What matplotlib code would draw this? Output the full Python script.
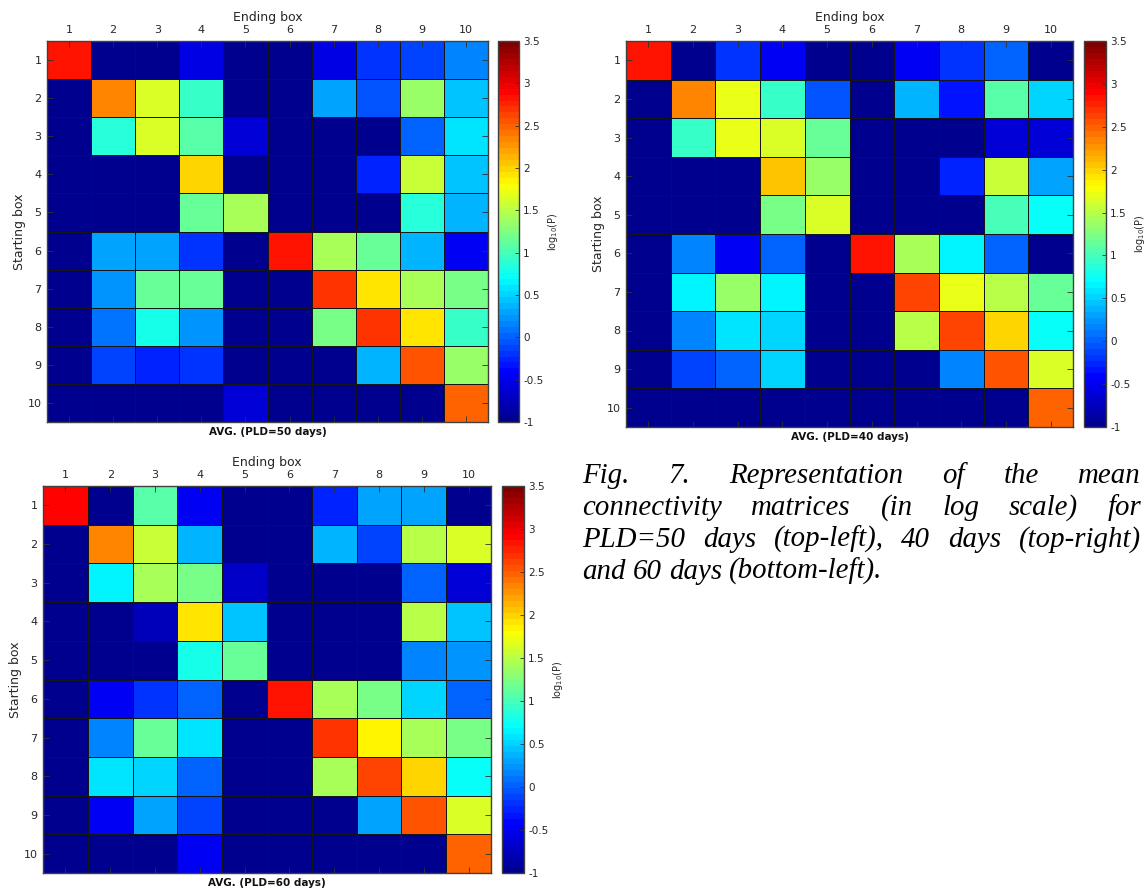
import numpy as np
import matplotlib
matplotlib.use("Agg")
import matplotlib.pyplot as plt
from matplotlib.colors import LinearSegmentedColormap
from matplotlib.ticker import FuncFormatter

# log10(P) of mean connectivity between boxes (rows: starting box, cols: ending box)
boxes = list(range(1, 11))

pld50 = [
    [2.80, -1.00, -1.00, -0.55, -1.00, -1.00, -0.55, -0.21, -0.09, 0.18],
    [-1.00, 2.32, 1.63, 0.91, -1.00, -1.00, 0.27, -0.04, 1.39, 0.44],
    [-1.00, 0.86, 1.63, 1.08, -0.64, -1.00, -1.00, -1.00, 0.05, 0.57],
    [-1.00, -1.00, -1.00, 1.99, -1.00, -1.00, -1.00, -0.26, 1.57, 0.44],
    [-1.00, -1.00, -1.00, 1.14, 1.44, -1.00, -1.00, -1.00, 0.86, 0.35],
    [-1.00, 0.27, 0.31, -0.22, -1.00, 2.80, 1.44, 1.14, 0.35, -0.45],
    [-1.00, 0.22, 1.14, 1.14, -1.00, -1.00, 2.67, 1.92, 1.44, 1.22],
    [-1.00, 0.09, 0.82, 0.22, -1.00, -1.00, 1.22, 2.70, 1.90, 0.91],
    [-1.00, -0.09, -0.26, -0.22, -1.00, -1.00, -1.00, 0.35, 2.54, 1.39],
    [-1.00, -1.00, -1.00, -1.00, -0.60, -1.00, -1.00, -1.00, -1.00, 2.50],
]

pld40 = [
    [2.80, -1.00, -0.22, -0.45, -1.00, -1.00, -0.50, -0.22, 0.05, -1.00],
    [-1.00, 2.37, 1.70, 0.91, -0.04, -1.00, 0.35, -0.30, 1.04, 0.49],
    [-1.00, 0.95, 1.70, 1.62, 1.14, -1.00, -1.00, -1.00, -0.64, -0.60],
    [-1.00, -1.00, -1.00, 2.06, 1.35, -1.00, -1.00, -0.26, 1.57, 0.27],
    [-1.00, -1.00, -1.00, 1.18, 1.62, -1.00, -1.00, -1.00, 1.00, 0.75],
    [-1.00, 0.18, -0.45, 0.00, -1.00, 2.85, 1.44, 0.62, 0.00, -1.00],
    [-1.00, 0.62, 1.35, 0.65, -1.00, -1.00, 2.63, 1.72, 1.48, 1.14],
    [-1.00, 0.18, 0.55, 0.49, -1.00, -1.00, 1.53, 2.65, 1.99, 0.72],
    [-1.00, -0.09, 0.05, 0.51, -1.00, -1.00, -1.00, 0.18, 2.54, 1.62],
    [-1.00, -1.00, -1.00, -1.00, -1.00, -1.00, -1.00, -1.00, -1.00, 2.50],
]

pld60 = [
    [2.90, -1.00, 1.04, -0.48, -1.00, -1.00, -0.26, 0.33, 0.27, -1.00],
    [-1.00, 2.32, 1.57, 0.39, -1.00, -1.00, 0.39, -0.09, 1.53, 1.62],
    [-1.00, 0.62, 1.44, 1.18, -0.66, -1.00, -1.00, -1.00, 0.00, -0.64],
    [-1.00, -1.00, -0.77, 1.90, 0.44, -1.00, -1.00, -1.00, 1.53, 0.44],
    [-1.00, -1.00, -1.00, 0.80, 1.14, -1.00, -1.00, -1.00, 0.14, 0.22],
    [-1.00, -0.45, -0.22, 0.05, -1.00, 2.85, 1.44, 1.18, 0.51, 0.00],
    [-1.00, 0.14, 1.14, 0.60, -1.00, -1.00, 2.67, 1.86, 1.44, 1.18],
    [-1.00, 0.55, 0.49, 0.00, -1.00, -1.00, 1.44, 2.65, 2.02, 0.70],
    [-1.00, -0.48, 0.27, -0.13, -1.00, -1.00, -1.00, 0.33, 2.52, 1.66],
    [-1.00, -1.00, -1.00, -0.48, -1.00, -1.00, -1.00, -1.00, -1.00, 2.45],
]

titles = ["AVG. (PLD=50 days)", "AVG. (PLD=40 days)", "AVG. (PLD=60 days)"]
cbar_ticks = [-1, -0.5, 0, 0.5, 1, 1.5, 2, 2.5, 3, 3.5]
vmin, vmax = -1.0, 3.5

caption_lines = [
    "Fig. 7. Representation of the mean",
    "connectivity matrices (in log scale) for",
    "PLD=50 days (top-left), 40 days (top-right)",
    "and 60 days (bottom-left).",
]

W, H = 1148, 894
fig = plt.figure(figsize=(W / 100, H / 100), dpi=100)
fig.patch.set_facecolor("white")

# MATLAB-style jet with 64 levels
jet_segments = {
    "red":   [(0, 0, 0), (3 / 8, 0, 0), (5 / 8, 1, 1), (7 / 8, 1, 1), (1, 0.5, 0.5)],
    "green": [(0, 0, 0), (1 / 8, 0, 0), (3 / 8, 1, 1), (5 / 8, 1, 1), (7 / 8, 0, 0), (1, 0, 0)],
    "blue":  [(0, 0.5625, 0.5625), (1 / 8, 1, 1), (3 / 8, 1, 1), (5 / 8, 0, 0), (1, 0, 0)],
}
cmap = LinearSegmentedColormap("matlab_jet", jet_segments, N=64)
text_col = "#262626"


def px_rect(x0, y_top, x1, y_bot):
    return [x0 / W, 1 - y_bot / H, (x1 - x0) / W, (y_bot - y_top) / H]


# axes boxes (left, top, right, bottom) in pixels, and matching colorbars
panels = [
    (pld50, titles[0], (47, 41, 488, 422), (498, 41, 519, 422)),
    (pld40, titles[1], (626, 41, 1073, 427), (1084, 41, 1106, 427)),
    (pld60, titles[2], (43, 486, 491, 873), (502, 486, 524, 873)),
]

edges = np.arange(0.5, 11.5, 1.0)

for data, title, abox, cbox in panels:
    ax = fig.add_axes(px_rect(*abox))
    mesh = ax.pcolormesh(edges, edges, np.array(data), cmap=cmap,
                         vmin=vmin, vmax=vmax, edgecolors="#151515",
                         linewidth=0.7)
    ax.set_xlim(0.5, 10.5)
    ax.set_ylim(10.5, 0.5)
    ax.set_xticks(boxes)
    ax.set_yticks(boxes)
    ax.tick_params(direction="in", top=True, bottom=True, left=True,
                   right=True, labeltop=True, labelbottom=False,
                   length=4, width=0.6, color="#303030",
                   labelsize=8, labelcolor=text_col, pad=4)
    ax.xaxis.set_label_position("top")
    ax.set_xlabel("Ending box", fontsize=9, color=text_col, labelpad=3)
    ax.set_ylabel("Starting box", fontsize=9, color=text_col, labelpad=1)
    for sp in ax.spines.values():
        sp.set_color("#404040")
        sp.set_linewidth(1.0)
    ax.text(0.5, -0.012, title, transform=ax.transAxes, ha="center",
            va="top", fontsize=7.5, fontweight="bold", color="#111111")

    cax = fig.add_axes(px_rect(*cbox))
    cb = fig.colorbar(mesh, cax=cax, ticks=cbar_ticks)
    cb.outline.set_edgecolor("#404040")
    cb.outline.set_linewidth(1.0)
    cb.ax.yaxis.set_major_formatter(FuncFormatter(lambda v, p: f"{v:g}"))
    cb.ax.tick_params(direction="in", length=3, width=0.6, color="#303030",
                      labelsize=7.5, labelcolor=text_col, pad=3)
    cb.set_label("log$_{10}$(P)", fontsize=7, color=text_col, labelpad=2)

# justified italic caption
cap_x0, cap_x1 = 582, 1141
baselines = [483, 515, 547, 579]
font_kw = dict(family="Liberation Serif", style="italic", fontsize=20.8,
               color="black", va="baseline", ha="left")

renderer = fig.canvas.get_renderer()
for i, (line, yb) in enumerate(zip(caption_lines, baselines)):
    words = line.split(" ")
    texts = [fig.text(0, 1 - yb / H, w, **font_kw) for w in words]
    widths = [t.get_window_extent(renderer).width for t in texts]
    if i < len(caption_lines) - 1:
        gap = (cap_x1 - cap_x0 - sum(widths)) / (len(words) - 1)
    else:
        probe_pair = fig.text(0, 0, "a b", **font_kw)
        probe_one = fig.text(0, 0, "a", **font_kw)
        gap = (probe_pair.get_window_extent(renderer).width
               - 2 * probe_one.get_window_extent(renderer).width)
        probe_pair.remove()
        probe_one.remove()
    x = cap_x0
    for t, w in zip(texts, widths):
        t.set_x(x / W)
        x += w + gap

fig.savefig("out.png", dpi=100, facecolor="white")
